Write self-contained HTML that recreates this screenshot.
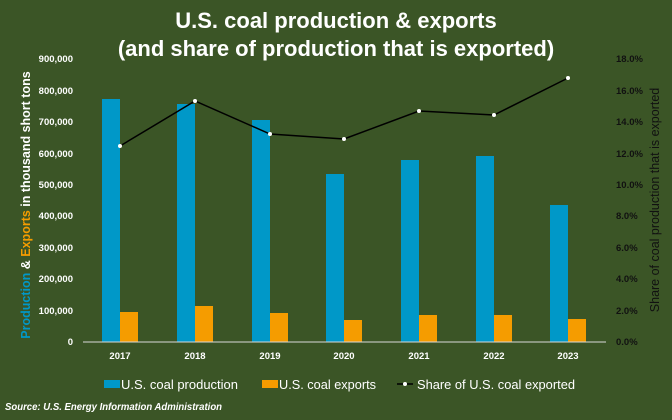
<!DOCTYPE html>
<html><head><style>
body{margin:0;background:#3b5526;}
svg{display:block;font-family:"Liberation Sans",sans-serif;}
</style></head><body>
<svg width="672" height="420" viewBox="0 0 672 420">
<rect width="672" height="420" fill="#3b5526"/>
<text x="336" y="28" text-anchor="middle" fill="#fff" font-size="22" font-weight="bold">U.S. coal production &amp; exports</text>
<text x="336" y="56" text-anchor="middle" fill="#fff" font-size="22" font-weight="bold">(and share of production that is exported)</text>
<g fill="#fff" font-size="9.5" font-weight="bold" text-anchor="end">
<text x="73" y="345">0</text><text x="73" y="314">100,000</text><text x="73" y="282">200,000</text>
<text x="73" y="251">300,000</text><text x="73" y="219">400,000</text><text x="73" y="188">500,000</text>
<text x="73" y="157">600,000</text><text x="73" y="125">700,000</text><text x="73" y="94">800,000</text><text x="73" y="62">900,000</text>
</g>
<g fill="#111" font-size="9.5" font-weight="bold">
<text x="616" y="345">0.0%</text><text x="616" y="314">2.0%</text><text x="616" y="282">4.0%</text>
<text x="616" y="251">6.0%</text><text x="616" y="219">8.0%</text><text x="616" y="188">10.0%</text>
<text x="616" y="157">12.0%</text><text x="616" y="125">14.0%</text><text x="616" y="94">16.0%</text><text x="616" y="62">18.0%</text>
</g>
<text transform="translate(30,205) rotate(-90)" text-anchor="middle" font-size="12.5" font-weight="bold"><tspan fill="#0098c8">Production</tspan><tspan fill="#fff"> &amp; </tspan><tspan fill="#f59c00">Exports</tspan><tspan fill="#fff"> in thousand short tons</tspan></text>
<text transform="translate(659,200) rotate(-90)" text-anchor="middle" font-size="12.5" fill="#111">Share of coal production that is exported</text>
<g fill="#0098c8">
<rect x="102" y="99" width="18" height="243"/>
<rect x="177" y="104" width="18" height="238"/>
<rect x="252" y="120" width="18" height="222"/>
<rect x="326" y="174" width="18" height="168"/>
<rect x="401" y="160" width="18" height="182"/>
<rect x="476" y="156" width="18" height="186"/>
<rect x="550" y="205" width="18" height="137"/>
</g>
<g fill="#f59c00">
<rect x="120" y="312" width="18" height="30"/>
<rect x="195" y="306" width="18" height="36"/>
<rect x="270" y="313" width="18" height="29"/>
<rect x="344" y="320" width="18" height="22"/>
<rect x="419" y="315" width="18" height="27"/>
<rect x="494" y="315" width="18" height="27"/>
<rect x="568" y="319" width="18" height="23"/>
</g>
<line x1="83" y1="342" x2="606" y2="342" stroke="#d9d9d9" stroke-width="1"/>
<polyline points="120,146 195,101 270,134 344,139 419,111 494,115 568,78" fill="none" stroke="#000" stroke-width="1.5"/>
<g fill="#fff"><circle cx="120" cy="146" r="2"/><circle cx="195" cy="101" r="2"/><circle cx="270" cy="134" r="2"/><circle cx="344" cy="139" r="2"/><circle cx="419" cy="111" r="2"/><circle cx="494" cy="115" r="2"/><circle cx="568" cy="78" r="2"/></g>
<g fill="#fff" font-size="9.5" font-weight="bold" text-anchor="middle">
<text x="120" y="359">2017</text><text x="195" y="359">2018</text><text x="270" y="359">2019</text><text x="344" y="359">2020</text><text x="419" y="359">2021</text><text x="494" y="359">2022</text><text x="568" y="359">2023</text>
</g>
<g font-size="13" fill="#fff">
<rect x="104" y="380" width="16" height="8" fill="#0098c8"/><text x="121" y="389" textLength="117" lengthAdjust="spacingAndGlyphs">U.S. coal production</text>
<rect x="262" y="380" width="16" height="8" fill="#f59c00"/><text x="279" y="389" textLength="97" lengthAdjust="spacingAndGlyphs">U.S. coal exports</text>
<line x1="397" y1="384" x2="413" y2="384" stroke="#000" stroke-width="1.5"/><circle cx="405" cy="384" r="2" fill="#fff"/>
<text x="417" y="389" textLength="158" lengthAdjust="spacingAndGlyphs">Share of U.S. coal exported</text>
</g>
<text x="5" y="410" fill="#fff" font-size="10" font-weight="bold" font-style="italic" textLength="217" lengthAdjust="spacingAndGlyphs">Source: U.S. Energy Information Administration</text>
</svg>
</body></html>
